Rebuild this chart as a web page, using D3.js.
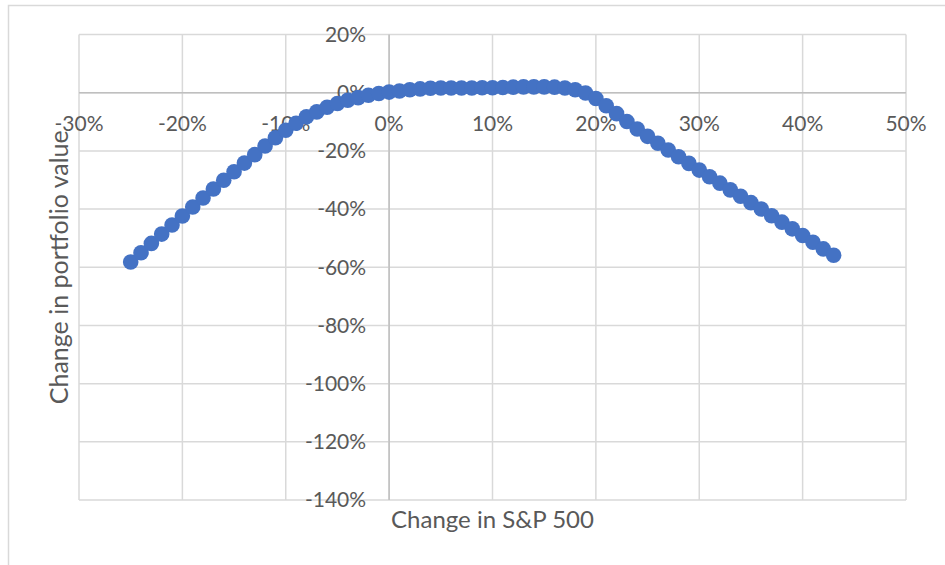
<!DOCTYPE html>
<html>
<head>
<meta charset="utf-8">
<script src="https://cdn.jsdelivr.net/npm/d3@7"></script>
<style>
  body { margin: 0; background: #fff; }
  text { font-family: Lato, "Open Sans", sans-serif; fill: #595959; }
</style>
</head>
<body>
<div id="d3-container"></div>
<script>
/* CONSTANTS AND GLOBALS */
const width = 945,
  height = 565,
  margin = { top: 34.5, bottom: 65, left: 79, right: 39 },
  radius = 7.8;

/* DATA */
// change in S&P 500 (%), one point per 1%
const spChange = [
  -25, -24, -23, -22, -21, -20, -19, -18, -17, -16, -15, -14, -13, -12, -11,
  -10, -9, -8, -7, -6, -5, -4, -3, -2, -1, 0, 1, 2, 3, 4, 5, 6, 7, 8, 9,
  10, 11, 12, 13, 14, 15, 16, 17, 18, 19, 20, 21, 22, 23, 24, 25, 26, 27, 28, 29,
  30, 31, 32, 33, 34, 35, 36, 37, 38, 39, 40, 41, 42, 43
];
// change in portfolio value (%)
const portfolioChange = [
  -58.2, -55.0, -51.8, -48.6, -45.5, -42.4, -39.3, -36.2, -33.1, -30.1, -27.2, -24.2, -21.3, -18.3, -15.5,
  -12.9, -10.5, -8.3, -6.6, -5.0, -3.7, -2.6, -1.7, -0.9, -0.3, 0.2, 0.6, 1.0, 1.3, 1.5, 1.6, 1.6, 1.6, 1.6, 1.7,
  1.7, 1.8, 1.9, 2.0, 2.0, 2.0, 1.9, 1.6, 1.0, -0.1, -2.0, -4.5, -7.2, -9.9, -12.5, -15.0, -17.4, -19.7, -22.0, -24.3,
  -26.6, -28.9, -31.1, -33.4, -35.6, -37.8, -40.0, -42.3, -44.5, -46.8, -49.1, -51.4, -53.7, -55.9
];
const xTicks = [-30, -20, -10, 0, 10, 20, 30, 40, 50];
const yTicks = [20, 0, -20, -40, -60, -80, -100, -120, -140];
const xTitle = "Change in S&P 500";
const yTitle = "Change in portfolio value";

const fmt = d => d + "%";

/* SCALES */
const xScale = d3.scaleLinear()
  .domain([-30, 50])
  .range([margin.left, width - margin.right]);

const yScale = d3.scaleLinear()
  .domain([-140, 20])
  .range([height - margin.bottom, margin.top]);

/* SVG */
const svg = d3.select("#d3-container")
  .append("svg")
  .attr("width", width)
  .attr("height", height);

// chart area border (runs off the right and bottom of the picture)
svg.append("rect")
  .attr("x", 8.5)
  .attr("y", 5.5)
  .attr("width", width + 20)
  .attr("height", height + 20)
  .attr("fill", "none")
  .attr("stroke", "#d9d9d9")
  .attr("stroke-width", 1.5);

// gridlines
const grid = svg.append("g").attr("class", "grid");

grid.selectAll("line.v")
  .data(xTicks)
  .join("line")
  .attr("class", "v")
  .attr("x1", d => xScale(d))
  .attr("x2", d => xScale(d))
  .attr("y1", yScale(20))
  .attr("y2", yScale(-140))
  .attr("stroke", "#d9d9d9")
  .attr("stroke-width", 1.5);

grid.selectAll("line.h")
  .data(yTicks)
  .join("line")
  .attr("class", "h")
  .attr("x1", xScale(-30))
  .attr("x2", xScale(50))
  .attr("y1", d => yScale(d))
  .attr("y2", d => yScale(d))
  .attr("stroke", "#d9d9d9")
  .attr("stroke-width", 1.5);

// axis lines cross at zero
svg.append("line")
  .attr("x1", xScale(-30))
  .attr("x2", xScale(50))
  .attr("y1", yScale(0))
  .attr("y2", yScale(0))
  .attr("stroke", "#bfbfbf")
  .attr("stroke-width", 1.5);

svg.append("line")
  .attr("x1", xScale(0))
  .attr("x2", xScale(0))
  .attr("y1", yScale(20))
  .attr("y2", yScale(-140))
  .attr("stroke", "#bfbfbf")
  .attr("stroke-width", 1.5);

// x tick labels, under the zero line
svg.append("g")
  .selectAll("text")
  .data(xTicks)
  .join("text")
  .attr("x", d => xScale(d))
  .attr("y", yScale(0) + 38)
  .attr("text-anchor", "middle")
  .attr("font-size", 21)
  .text(fmt);

// y tick labels, left of the zero line
svg.append("g")
  .selectAll("text")
  .data(yTicks)
  .join("text")
  .attr("x", xScale(0) - 23)
  .attr("y", d => yScale(d))
  .attr("dy", "0.35em")
  .attr("text-anchor", "end")
  .attr("font-size", 21)
  .text(fmt);

// points
const points = spChange.map((d, i) => ({ x: d, y: portfolioChange[i] }));

svg.append("g")
  .selectAll("circle")
  .data(points)
  .join("circle")
  .attr("cx", d => xScale(d.x))
  .attr("cy", d => yScale(d.y))
  .attr("r", radius)
  .attr("fill", "#4472c4");

// axis titles
svg.append("text")
  .attr("x", (xScale(-30) + xScale(50)) / 2)
  .attr("y", 528)
  .attr("text-anchor", "middle")
  .attr("font-size", 24)
  .text(xTitle);

svg.append("text")
  .attr("transform", `translate(68, ${(yScale(20) + yScale(-140)) / 2}) rotate(-90)`)
  .attr("text-anchor", "middle")
  .attr("font-size", 25)
  .text(yTitle);
</script>
</body>
</html>
